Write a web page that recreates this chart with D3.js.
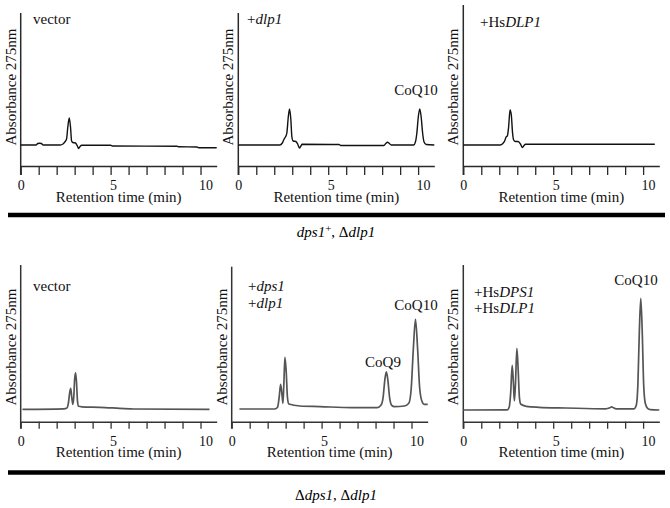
<!DOCTYPE html>
<html>
<head>
<meta charset="utf-8">
<script src="https://cdn.jsdelivr.net/npm/d3@7"></script>
<style>
  body { margin: 0; background: #fff; }
</style>
</head>
<body>
<div id="chart"></div>
<script>
// chromatogram traces, [retention time (min), absorbance (arbitrary units above baseline)]
var top_vector = [[0,0],[0.85,0],[0.95,1.5],[1.05,1.8],[1.15,1.5],[1.25,0],[2.2,0],[2.35,1],[2.45,3],[2.55,6],[2.62,18],[2.7,27],[2.77,18],[2.83,4],[2.9,2.5],[3.05,2],[3.15,-1],[3.22,-3.5],[3.3,-1.5],[3.4,-0.3],[5.0,-0.3],[5.1,-1],[8.7,-1.3],[8.8,-1.8],[9.8,-2],[9.9,-2.7],[10.9,-2.7]];
var top_dlp1 = [[0,0],[2.3,0],[2.45,2],[2.55,6],[2.62,8],[2.7,12],[2.78,28],[2.85,36],[2.92,26],[2.98,8],[3.05,4],[3.2,3.5],[3.3,1],[3.4,-3],[3.48,-1],[3.55,0.7],[5.6,0.5],[5.7,-0.5],[8.1,-0.5],[8.2,1.5],[8.3,2.7],[8.4,1.5],[8.5,0],[9.75,0],[9.85,3],[9.93,12],[10.01,28],[10.09,36],[10.17,28],[10.25,12],[10.33,3],[10.45,0.5],[10.9,0]];
var top_hsdlp1 = [[0,0],[2.05,0],[2.2,1.5],[2.3,4],[2.38,8],[2.45,9],[2.52,18],[2.6,35],[2.67,30],[2.74,12],[2.8,5],[2.9,3.5],[3.05,3.5],[3.18,1],[3.28,-2.5],[3.38,-0.5],[3.45,0.7],[10.65,0.7]];
var bot_vector = [[0.1,0],[2.4,0.5],[2.55,1],[2.65,6],[2.72,16],[2.78,21],[2.84,12],[2.9,5],[2.95,12],[3.0,30],[3.05,36.5],[3.1,28],[3.16,8],[3.22,3],[3.4,2.5],[4.4,2],[5.5,1],[6.3,0.3],[10.5,0]];
var bot_dps1_dlp1 = [[0.43,0.3],[2.4,0.3],[2.55,2],[2.64,12],[2.72,25],[2.8,14],[2.85,6],[2.9,25],[2.96,52],[3.03,38],[3.1,12],[3.18,5.3],[3.8,3.3],[4.9,2.7],[6.7,1.7],[8.1,1.7],[8.3,4],[8.42,12],[8.52,30],[8.6,37.5],[8.68,30],[8.78,12],[8.9,4],[9.05,2.7],[9.6,3.3],[9.85,6],[9.98,20],[10.1,60],[10.22,90],[10.34,60],[10.45,22],[10.58,8],[10.7,5],[10.9,5]];
var bot_hs = [[0,-0.7],[2.45,-0.5],[2.55,2],[2.63,15],[2.72,44],[2.79,25],[2.84,8.5],[2.9,25],[2.98,61],[3.05,40],[3.12,12],[3.2,5],[3.5,3],[4.2,2],[5.7,1.3],[7.9,0.5],[8.15,1.5],[8.25,2.5],[8.35,1.5],[8.5,0.5],[9.5,0.5],[9.62,4],[9.71,25],[9.79,78],[9.87,111],[9.95,78],[10.03,25],[10.12,6],[10.25,1],[10.4,-0.3],[10.9,-0.7]];

var tickValues = [0,1,2,3,4,5,6,7,8,9,10];
var tickLabels = [0,5,10];
var xTitle = "Retention time (min)";
var yTitle = "Absorbance 275nm";

var serif = "'Liberation Serif', Tinos, 'Times New Roman', Times, 'DejaVu Serif', 'Noto Serif', serif";

// annotation text: each line is a list of [text, italic]
var panels = [
  {row: 0, x0: 20.7, yTop: 13, data: top_vector,
   notes: [{x: 33, y: 24, parts: [["vector", false]]}]},
  {row: 0, x0: 238.3, yTop: 13, data: top_dlp1,
   notes: [{x: 247, y: 24, parts: [["+", false], ["dlp1", true]]},
           {x: 416, y: 95, anchor: "middle", parts: [["CoQ10", false]]}]},
  {row: 0, x0: 463.3, yTop: 5, data: top_hsdlp1,
   notes: [{x: 480, y: 27, parts: [["+Hs", false], ["DLP1", true]]}]},
  {row: 1, x0: 20.7, yTop: 265, data: bot_vector,
   notes: [{x: 33, y: 291, parts: [["vector", false]]}]},
  {row: 1, x0: 231.7, yTop: 266.7, data: bot_dps1_dlp1,
   notes: [{x: 248, y: 291, parts: [["+", false], ["dps1", true]]},
           {x: 248, y: 308, parts: [["+", false], ["dlp1", true]]},
           {x: 383, y: 367, anchor: "middle", parts: [["CoQ9", false]]},
           {x: 416, y: 310, anchor: "middle", parts: [["CoQ10", false]]}]},
  {row: 1, x0: 463.3, yTop: 265, data: bot_hs,
   notes: [{x: 474, y: 297, parts: [["+Hs", false], ["DPS1", true]]},
           {x: 474, y: 313, parts: [["+Hs", false], ["DLP1", true]]},
           {x: 636, y: 285, anchor: "middle", parts: [["CoQ10", false]]}]}
];

var rows = [
  {axisY: 166, plotTop: 13, yMin: -21, yMax: 132, tick: 9, pad: 5, titleY: 202, labelCy: 87,
   stroke: "#111", axis: "#2a2a2a", sepY: 215, groupY: 237},
  {axisY: 421.7, plotTop: 265, yMin: -12.4, yMax: 144.3, tick: 7, pad: 7, titleY: 457, labelCy: 347,
   stroke: "#555", axis: "#333", sepY: 472.5, groupY: 500}
];

var width = 670, height = 508, plotW = 196;

var svg = d3.select("#chart").append("svg")
  .attr("width", width)
  .attr("height", height)
  .attr("font-family", serif);

panels.forEach(function(p) {
  var r = rows[p.row];
  var x = d3.scaleLinear().domain([0, 10.9]).range([p.x0, p.x0 + plotW]);
  var y = d3.scaleLinear().domain([r.yMin, r.yMax]).range([r.axisY, r.plotTop]);

  var g = svg.append("g");

  var xAxis = d3.axisBottom(x)
    .tickValues(tickValues)
    .tickSize(r.tick)
    .tickSizeOuter(0)
    .tickPadding(r.pad)
    .tickFormat(function(d) { return tickLabels.indexOf(d) >= 0 ? d : ""; });

  var ax = g.append("g")
    .attr("transform", "translate(0," + r.axisY + ")")
    .call(xAxis)
    .attr("font-family", serif)
    .attr("font-size", 14);
  ax.select(".domain").attr("stroke", r.axis).attr("stroke-width", 1.5);
  ax.selectAll(".tick line").attr("stroke", r.axis).attr("stroke-width", 1.3);
  ax.selectAll(".tick text")
    .attr("fill", "#111")
    .attr("dx", function(d) { return d * 0.5; });

  // y axis: plain line, no ticks
  g.append("line")
    .attr("x1", p.x0).attr("x2", p.x0)
    .attr("y1", p.yTop).attr("y2", r.axisY + r.tick)
    .attr("stroke", r.axis).attr("stroke-width", 1.5);

  g.append("text")
    .attr("transform", "translate(" + (p.x0 - 5) + "," + r.labelCy + ") rotate(-90)")
    .attr("text-anchor", "middle")
    .attr("font-size", 15)
    .attr("fill", "#111")
    .text(yTitle);

  g.append("text")
    .attr("x", p.x0 + plotW / 2)
    .attr("y", r.titleY)
    .attr("text-anchor", "middle")
    .attr("font-size", 15)
    .attr("fill", "#111")
    .text(xTitle);

  var line = d3.line()
    .x(function(d) { return x(d[0]); })
    .y(function(d) { return y(d[1]); })
    .curve(d3.curveMonotoneX);

  g.append("path")
    .datum(p.data)
    .attr("d", line)
    .attr("fill", "none")
    .attr("stroke", r.stroke)
    .attr("stroke-width", p.row === 0 ? 1.4 : 1.7)
    .attr("stroke-linejoin", "round");

  p.notes.forEach(function(n) {
    var t = g.append("text")
      .attr("x", n.x).attr("y", n.y)
      .attr("text-anchor", n.anchor || "start")
      .attr("font-size", 15)
      .attr("fill", "#111");
    n.parts.forEach(function(part) {
      t.append("tspan")
        .attr("font-style", part[1] ? "italic" : "normal")
        .text(part[0]);
    });
  });
});

// group separators and strain labels
rows.forEach(function(r) {
  svg.append("line")
    .attr("x1", 8).attr("x2", 665)
    .attr("y1", r.sepY).attr("y2", r.sepY)
    .attr("stroke", "#000").attr("stroke-width", 4.5);
});

var g1 = svg.append("text")
  .attr("x", 336).attr("y", rows[0].groupY)
  .attr("text-anchor", "middle")
  .attr("font-size", 15);
g1.append("tspan").attr("font-style", "italic").text("dps1");
g1.append("tspan").attr("dy", -5).attr("font-size", 11).text("+");
g1.append("tspan").attr("dy", 5).text(", \u0394");
g1.append("tspan").attr("font-style", "italic").text("dlp1");

var g2 = svg.append("text")
  .attr("x", 336).attr("y", rows[1].groupY)
  .attr("text-anchor", "middle")
  .attr("font-size", 15);
g2.append("tspan").text("\u0394");
g2.append("tspan").attr("font-style", "italic").text("dps1");
g2.append("tspan").text(", \u0394");
g2.append("tspan").attr("font-style", "italic").text("dlp1");
</script>
</body>
</html>
